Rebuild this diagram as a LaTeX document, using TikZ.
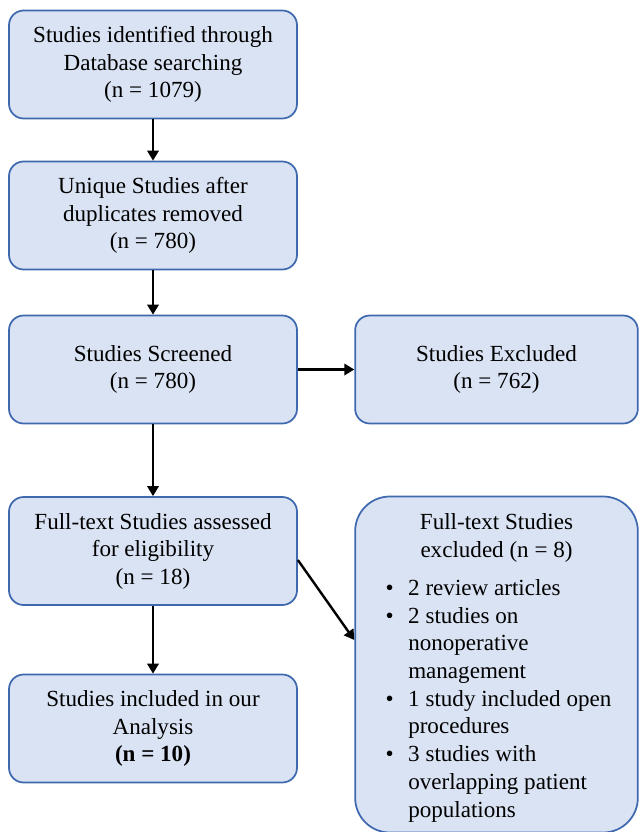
\documentclass[tikz,border=0pt]{standalone}
\usepackage{fontspec}
\setmainfont{Liberation Serif}
\usetikzlibrary{arrows.meta}
\definecolor{boxfill}{HTML}{DAE3F3}
\definecolor{boxline}{HTML}{3F69AE}
\tikzset{
  flowbox/.style={draw=boxline, fill=boxfill, line width=1.3pt, rounded corners=11pt,
    minimum width=216pt, minimum height=81pt, align=center, inner sep=0pt,
    font=\fontsize{17.3pt}{20.6pt}\selectfont},
  txt/.style={inner sep=0pt, font=\fontsize{17.3pt}{20.8pt}\selectfont},
  conn/.style={line width=1.8pt, -{Triangle[length=7.5pt,width=8.5pt]}}
}
\begin{document}
\begin{tikzpicture}[x=0.75pt,y=-0.75pt]
\useasboundingbox (0,0) rectangle (640,832);
\node[flowbox] (b1) at (153,64.5) {Studies identified through\\Database searching\\(n = 1079)};
\node[flowbox] (b2) at (153,215.5) {Unique Studies after\\duplicates removed\\(n = 780)};
\node[flowbox] (b3) at (153,369.5) {Studies Screened\\(n = 780)};
\node[flowbox, minimum width=212pt] (ex) at (496.5,369.5) {Studies Excluded\\(n = 762)};
\node[flowbox] (b4) at (153,551) {Full-text Studies assessed\\for eligibility\\(n = 18)};
\node[flowbox] (b5) at (153,728.5) {Studies included in our\\Analysis\\\textbf{(n = 10)}};
\node[flowbox, rounded corners=26pt, minimum width=212pt, minimum height=252pt] (fx) at (496.5,664.5) {};
\node[txt, align=center, anchor=north] (fxt) at (496.5,513) {Full-text Studies\\excluded (n = 8)};
\node[txt, align=left, anchor=north west] (fxl) at (408,579) {%
\llap{\textbullet\hspace{11pt}}2 review articles\\
\llap{\textbullet\hspace{11pt}}2 studies on\\
nonoperative\\
management\\
\llap{\textbullet\hspace{11pt}}1 study included open\\
procedures\\
\llap{\textbullet\hspace{11pt}}3 studies with\\
overlapping patient\\
populations};
\draw[conn] (b1) -- (b2);
\draw[conn] (b2) -- (b3);
\draw[conn] (b3) -- (ex);
\draw[conn] (b3) -- (b4);
\draw[conn] (b4) -- (b5);
\draw[conn] (b4.east |- 0,560) -- (fx.west |- 0,640);
\end{tikzpicture}
\end{document}
